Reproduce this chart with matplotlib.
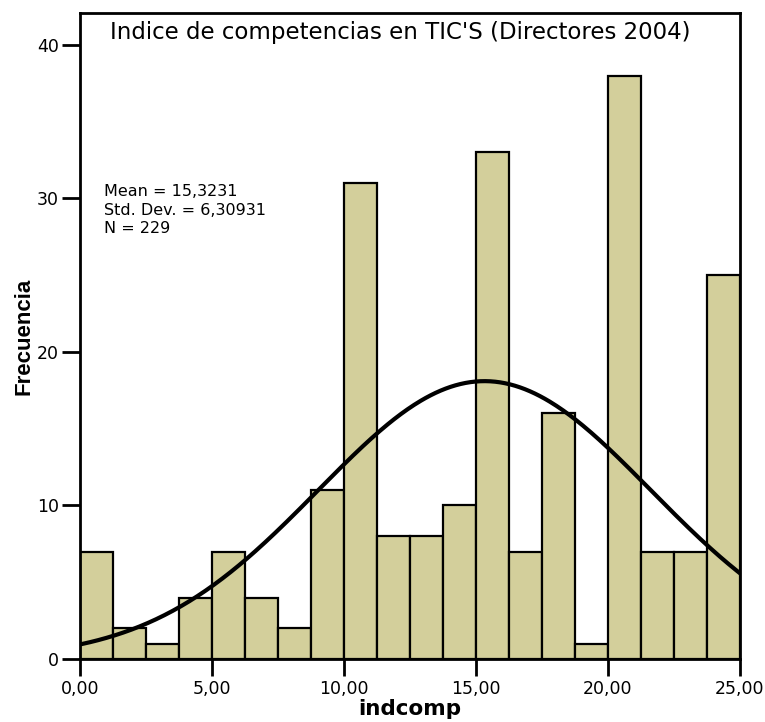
import numpy as np
import matplotlib
matplotlib.use("Agg")
import matplotlib.pyplot as plt

# Data
bin_width = 1.25
bin_starts = [i * bin_width for i in range(20)]
counts = [7, 2, 1, 4, 7, 4, 2, 11, 31, 8, 8, 10, 33, 7, 16, 1, 38, 7, 7, 25]
mean_val = 15.3231
sd_val = 6.30931
n_val = 229
x_ticks = [0, 5, 10, 15, 20, 25]
x_tick_labels = ["0,00", "5,00", "10,00", "15,00", "20,00", "25,00"]
y_ticks = [0, 10, 20, 30, 40]
title = "Indice de competencias en TIC'S (Directores 2004)"
stats_lines = ["Mean = 15,3231", "Std. Dev. = 6,30931", "N = 229"]

plt.rcParams['font.family'] = ['DejaVu Sans']

fig = plt.figure(figsize=(7.65, 7.22), dpi=100)
ax = fig.add_axes([80/765, 63/722, 660/765, 646/722])

ax.bar(bin_starts, counts, width=bin_width, align='edge',
       color='#d3cf9b', edgecolor='black', linewidth=1.6, zorder=2)

xs = np.linspace(0, 25, 400)
ys = n_val * bin_width / (sd_val * np.sqrt(2 * np.pi)) * np.exp(-0.5 * ((xs - mean_val) / sd_val) ** 2)
ax.plot(xs, ys, color='black', linewidth=3, zorder=3)

ax.set_xlim(0, 25)
ax.set_ylim(0, 42.08)
ax.set_xticks(x_ticks)
ax.set_xticklabels(x_tick_labels)
ax.set_yticks(y_ticks)
ax.tick_params(axis='x', direction='out', length=12, width=2, labelsize=12.5, pad=3)
ax.tick_params(axis='y', direction='out', length=13, width=2, labelsize=12.5, pad=2)
for sp in ax.spines.values():
    sp.set_linewidth(2)

ax.set_xlabel("indcomp", fontsize=15.5, fontweight='bold', labelpad=1)
ax.set_ylabel("Frecuencia", fontsize=16, fontweight='bold', labelpad=2,
              family='Liberation Sans')

ax.text((400 - 80) / 660, (722 - 32 - 63) / 646, title, transform=ax.transAxes,
        ha='center', va='center', fontsize=16.5)
ax.text((104 - 80) / 660, (722 - 184 - 63) / 646, "\n".join(stats_lines),
        transform=ax.transAxes, ha='left', va='top', fontsize=11.5, linespacing=1.3)

fig.savefig("out.png", dpi=100)
